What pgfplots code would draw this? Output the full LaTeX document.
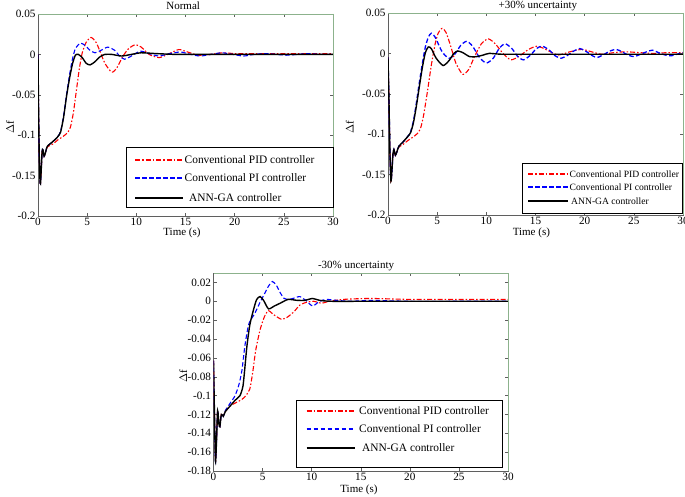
\documentclass[border=0pt]{standalone}
\usepackage{fontspec}
\setmainfont{Liberation Serif}
\usepackage{pgfplots}
\pgfplotsset{compat=1.18}
\definecolor{framegray}{RGB}{95,95,95}
\definecolor{framegreen}{RGB}{140,178,140}
\tikzset{
  pid/.style={color=red, line width=1.1pt, dash pattern=on 5pt off 2pt on 1.5pt off 2pt},
  pi/.style={color=blue, line width=1.1pt, dash pattern=on 4.5pt off 2.5pt},
  ann/.style={color=black, line width=1.4pt},
  legtxt/.style={anchor=west, inner sep=0pt, font=\fontsize{11.4}{12}\selectfont},
  legtxtb/.style={anchor=west, inner sep=0pt, font=\fontsize{9.6}{10.5}\selectfont},
  legbox/.style={draw=black, line width=0.5pt, fill=white},
}
\pgfplotsset{
  every axis title shift=0pt,
  base/.style={
    scale only axis, width=295pt,
    xmin=0, xmax=30,
    xtick={0,5,10,15,20,25,30}, xticklabels={0,5,10,15,20,25,30},
    xtick pos=both, ytick pos=both, tick align=inside,
    major tick length=3pt,
    tick style={framegray, line width=0.4pt},
    axis line style={framegray, line width=0.5pt},
    ticklabel style={font=\fontsize{11.2}{12}\selectfont},
    xticklabel style={yshift=1pt},
    yticklabel style={xshift=1pt},
    label style={font=\fontsize{11}{12}\selectfont},
    title style={font=\fontsize{11}{12}\selectfont, anchor=center},
    after end axis/.code={\draw[framegreen, line width=0.6pt] (rel axis cs:0,1) -- (rel axis cs:1,1) -- (rel axis cs:1,0);},
  },
}
\begin{document}
\begin{tikzpicture}
\useasboundingbox (0pt,0pt) rectangle (685pt,496pt);
% ---------------- (a) ----------------
\begin{axis}[base, at={(38pt,280pt)}, anchor=south west, height=202pt,
  ymin=-0.2, ymax=0.05,
  ytick={-0.2,-0.15,-0.1,-0.05,0,0.05}, yticklabels={-0.2,-0.15,-0.1,-0.05,0,0.05},
  title={Normal}, title style={at={(axis description cs:0.492,1.04)}},
  xlabel={Time (s)}, xlabel style={at={(axis description cs:0.488,-0.084)}, anchor=center},
  ylabel={$\Delta$f}, ylabel style={at={(axis description cs:-0.095,0.44)}, anchor=center},
]
\addplot[pid, smooth, tension=0.4] coordinates {(0,0) (0.05,-0.06) (0.12,-0.12) (0.2,-0.155) (0.25,-0.16) (0.32,-0.145) (0.42,-0.12) (0.5,-0.118) (0.62,-0.126) (0.75,-0.122) (0.9,-0.116) (1.0,-0.114)
 (1.5,-0.111) (2.0,-0.106) (2.5,-0.102) (3.0,-0.097) (3.3,-0.09) (3.6,-0.072) (3.9,-0.045) (4.2,-0.018) (4.5,0.002) (4.9,0.015) (5.4,0.021) (5.9,0.015) (6.3,0.004) (6.8,-0.011) (7.5,-0.022) (8.0,-0.017) (8.6,-0.003) (9.2,0.007) (9.9,0.012) (10.5,0.009) (11.3,0.0) (12.3,-0.004) (13.2,0.0) (14.3,0.006) (15.2,0.003) (16.3,-0.001) (17.5,0.0) (18.8,0.002) (20,0.001) (22,0.001) (24,0.001) (26,0.001) (28,0.001) (30,0.001)};
\addplot[pi, smooth, tension=0.4] coordinates {(0,0) (0.05,-0.06) (0.12,-0.12) (0.2,-0.155) (0.25,-0.16) (0.32,-0.145) (0.42,-0.12) (0.5,-0.118) (0.62,-0.126) (0.75,-0.122) (0.9,-0.115) (1.0,-0.113)
 (1.5,-0.108) (2.0,-0.102) (2.3,-0.095) (2.6,-0.076) (2.9,-0.05) (3.2,-0.026) (3.5,-0.006) (3.8,0.007) (4.3,0.014) (4.8,0.011) (5.3,0.005) (5.8,0.002) (6.4,0.005) (7.1,0.009) (7.8,0.005) (8.3,-0.002) (8.8,-0.006) (9.5,-0.002) (10.4,0.004) (11.3,0.001) (12.3,-0.002) (13.4,0.001) (14.5,0.003) (15.5,0.0) (16.5,-0.002) (17.6,0.0) (18.7,0.002) (19.8,0.0) (20.9,-0.002) (22,0.0) (23.1,0.001) (24.2,0.0) (25.3,-0.001) (26.4,0.0) (27.5,0.001) (28.6,0.0) (30,0.0)};
\addplot[ann, smooth, tension=0.4] coordinates {(0,0) (0.05,-0.06) (0.12,-0.12) (0.2,-0.155) (0.25,-0.16) (0.32,-0.145) (0.42,-0.12) (0.5,-0.118) (0.62,-0.126) (0.75,-0.122) (0.9,-0.115) (1.0,-0.113)
 (1.5,-0.108) (2.0,-0.102) (2.3,-0.096) (2.6,-0.078) (2.9,-0.052) (3.2,-0.03) (3.5,-0.012) (3.8,-0.001) (4.1,0.0) (4.5,-0.004) (4.9,-0.011) (5.3,-0.013) (5.8,-0.009) (6.3,-0.003) (6.8,0.0) (7.5,0.0) (8.5,-0.002) (9.5,0.0) (10.5,0.002) (12,0.001) (14,0.0) (17,0.0) (20,0.0) (25,0.0) (30,0.0)};
\node[font=\fontsize{11}{12}\selectfont] at (axis description cs:-0.054,-0.084) {(a)};
\end{axis}
% ---------------- (b) ----------------
\begin{axis}[base, at={(388pt,281pt)}, anchor=south west, height=202pt,
  ymin=-0.2, ymax=0.05,
  ytick={-0.2,-0.15,-0.1,-0.05,0,0.05}, yticklabels={-0.2,-0.15,-0.1,-0.05,0,0.05},
  title={+30\% uncertainty}, title style={at={(axis description cs:0.508,1.035)}},
  xlabel={Time (s)}, xlabel style={at={(axis description cs:0.486,-0.089)}, anchor=center},
  ylabel={$\Delta$f}, ylabel style={at={(axis description cs:-0.13,0.436)}, anchor=center},
]
\addplot[pid, smooth, tension=0.4] coordinates {(0,-0.005) (0.1,-0.06) (0.2,-0.125) (0.3,-0.158) (0.4,-0.145) (0.5,-0.125) (0.6,-0.119) (0.75,-0.126) (0.9,-0.122) (1.1,-0.116)
 (1.5,-0.113) (2.0,-0.108) (2.5,-0.104) (3.0,-0.099) (3.3,-0.093) (3.6,-0.078) (4.0,-0.048) (4.4,-0.015) (4.8,0.012) (5.1,0.025) (5.5,0.031) (5.9,0.026) (6.4,0.008) (6.9,-0.012) (7.6,-0.026) (8.2,-0.02) (8.8,-0.004) (9.5,0.012) (10.2,0.018) (10.9,0.012) (11.7,0.0) (12.5,-0.008) (13.4,-0.003) (14.3,0.005) (15.2,0.009) (16.2,0.004) (17.3,-0.002) (18.5,0.002) (19.7,0.005) (20.7,0.002) (21.7,-0.001) (23,0.001) (24.2,0.002) (25.5,0.001) (27,0.0) (28.5,0.001) (30,0.001)};
\addplot[pi, smooth, tension=0.4, line width=1.3pt] coordinates {(0,-0.005) (0.1,-0.06) (0.2,-0.125) (0.3,-0.158) (0.4,-0.145) (0.5,-0.125) (0.6,-0.119) (0.75,-0.126) (0.9,-0.122) (1.1,-0.115)
 (1.5,-0.11) (2.0,-0.103) (2.3,-0.097) (2.6,-0.083) (2.9,-0.06) (3.2,-0.035) (3.5,-0.012) (3.8,0.008) (4.1,0.02) (4.4,0.025) (4.8,0.02) (5.5,0.002) (6.2,-0.006) (6.8,-0.001) (7.4,0.01) (8.0,0.015) (8.6,0.009) (9.3,-0.005) (10.0,-0.012) (10.7,-0.006) (11.3,0.006) (11.9,0.012) (12.6,0.006) (13.2,-0.004) (13.8,-0.008) (14.5,-0.002) (15.1,0.006) (15.7,0.009) (16.4,0.004) (17.0,-0.003) (17.6,-0.006) (18.3,-0.002) (18.9,0.003) (19.5,0.006) (20.2,0.002) (20.8,-0.003) (21.3,-0.005) (22.0,-0.001) (22.6,0.003) (23.2,0.005) (23.8,0.002) (24.4,-0.002) (25.0,-0.004) (25.7,-0.001) (26.3,0.002) (26.9,0.004) (27.5,0.001) (28.2,-0.002) (28.8,-0.003) (29.4,-0.001) (30,0.001)};
\addplot[ann, smooth, tension=0.4] coordinates {(0,-0.005) (0.1,-0.06) (0.2,-0.125) (0.3,-0.158) (0.4,-0.145) (0.5,-0.125) (0.6,-0.119) (0.75,-0.126) (0.9,-0.122) (1.1,-0.115)
 (1.5,-0.11) (2.0,-0.103) (2.3,-0.098) (2.6,-0.085) (2.9,-0.064) (3.2,-0.04) (3.5,-0.017) (3.8,0.001) (4.1,0.008) (4.4,0.006) (4.9,-0.006) (5.6,-0.015) (6.2,-0.009) (6.7,0.0) (7.1,0.003) (7.6,0.001) (8.3,-0.004) (9.0,-0.004) (9.7,-0.002) (10.3,0.0) (11.5,-0.001) (14,-0.001) (18,-0.001) (22,-0.001) (26,-0.001) (30,-0.001)};
\node[font=\fontsize{11}{12}\selectfont] at (axis description cs:-0.054,-0.089) {(b)};
\end{axis}
% ---------------- (c) ----------------
\begin{axis}[base, at={(213.5pt,25pt)}, anchor=south west, width=294.5pt, height=198pt,
  ymin=-0.18, ymax=0.03,
  ytick={-0.18,-0.16,-0.14,-0.12,-0.1,-0.08,-0.06,-0.04,-0.02,0,0.02},
  yticklabels={-0.18,-0.16,-0.14,-0.12,-0.1,-0.08,-0.06,-0.04,-0.02,0,0.02},
  title={-30\% uncertainty}, title style={at={(axis description cs:0.484,1.037)}},
  xlabel={Time (s)}, xlabel style={at={(axis description cs:0.494,-0.096)}, anchor=center},
  ylabel={$\Delta$f}, ylabel style={at={(axis description cs:-0.103,0.477)}, anchor=center},
]
\addplot[pid, smooth, tension=0.4] coordinates {(0,-0.063) (0.1,-0.12) (0.2,-0.17) (0.3,-0.15) (0.42,-0.116) (0.55,-0.13) (0.65,-0.133) (0.8,-0.12) (1.0,-0.122) (1.2,-0.117)
 (1.7,-0.111) (2.2,-0.108) (2.9,-0.104) (3.3,-0.1) (3.7,-0.093) (4.0,-0.075) (4.3,-0.052) (4.75,-0.03) (5.2,-0.016) (5.6,-0.01) (6.1,-0.014) (6.9,-0.019) (7.5,-0.017) (8.2,-0.011) (8.8,-0.004) (9.5,-0.001) (10.2,0.0) (11.0,-0.002) (11.8,0.0) (13.2,0.002) (16,0.003) (20,0.002) (25,0.002) (30,0.002)};
\addplot[pi, smooth, tension=0.4] coordinates {(0,-0.063) (0.1,-0.12) (0.2,-0.17) (0.3,-0.15) (0.42,-0.116) (0.55,-0.13) (0.65,-0.133) (0.8,-0.12) (1.0,-0.122) (1.2,-0.116)
 (1.7,-0.108) (2.2,-0.1) (2.6,-0.088) (2.9,-0.073) (3.2,-0.047) (3.6,-0.024) (4.2,-0.013) (4.7,-0.002) (5.2,0.008) (5.6,0.016) (6.0,0.021) (6.4,0.017) (6.8,0.009) (7.2,0.003) (7.7,0.002) (8.4,0.004) (8.8,0.005) (9.4,0.001) (10.1,-0.005) (10.8,0.0) (11.5,0.002) (12.5,0.001) (14,0.0) (16,0.001) (20,0.0) (25,0.0) (30,0.0)};
\addplot[ann, smooth, tension=0.4] coordinates {(0,-0.063) (0.1,-0.12) (0.2,-0.17) (0.3,-0.15) (0.42,-0.116) (0.55,-0.13) (0.65,-0.133) (0.8,-0.12) (1.0,-0.122) (1.2,-0.117)
 (1.7,-0.111) (2.2,-0.105) (2.7,-0.1) (3.0,-0.09) (3.2,-0.07) (3.4,-0.048) (3.7,-0.025) (4.1,-0.008) (4.4,0.002) (4.75,0.005) (5.1,0.001) (5.6,-0.008) (6.2,-0.005) (6.8,-0.002) (7.6,0.002) (8.5,0.001) (9.3,0.001) (10.1,0.003) (10.8,0.001) (12,0.0) (15,0.0) (20,0.0) (25,0.0) (30,0.0)};
\node[font=\fontsize{11}{12}\selectfont] at (axis description cs:-0.049,-0.066) {(c)};
\end{axis}
% ---------------- legends ----------------
% (a)
\draw[legbox] (126pt,289pt) rectangle (333pt,349pt);
\draw[pid] (135pt,336pt) -- (183pt,336pt);
\node[legtxt] at (184.5pt,336pt) {Conventional PID controller};
\draw[pi] (135pt,318pt) -- (183pt,318pt);
\node[legtxt] at (184.5pt,318pt) {Conventional PI controller};
\draw[ann] (135pt,298pt) -- (183pt,298pt);
\node[legtxt] at (189pt,298pt) {ANN-GA controller};
% (b)
\draw[legbox] (522pt,283pt) rectangle (682.5pt,333pt);
\draw[pid] (528pt,322pt) -- (568pt,322pt);
\node[legtxtb] at (569.5pt,322pt) {Conventional PID controller};
\draw[pi, line width=1.3pt] (528pt,309pt) -- (568pt,309pt);
\node[legtxtb] at (569.5pt,309pt) {Conventional PI controller};
\draw[ann] (528pt,295pt) -- (568pt,295pt);
\node[legtxtb] at (571pt,295pt) {ANN-GA controller};
% (c)
\draw[legbox] (296pt,29pt) rectangle (502pt,96pt);
\draw[pid] (306.7pt,85pt) -- (355pt,85pt);
\node[legtxt] at (359pt,85pt) {Conventional PID controller};
\draw[pi] (306.7pt,67pt) -- (355pt,67pt);
\node[legtxt] at (359pt,67pt) {Conventional PI controller};
\draw[ann] (306.7pt,48pt) -- (355pt,48pt);
\node[legtxt] at (362pt,48pt) {ANN-GA controller};
\end{tikzpicture}
\end{document}
